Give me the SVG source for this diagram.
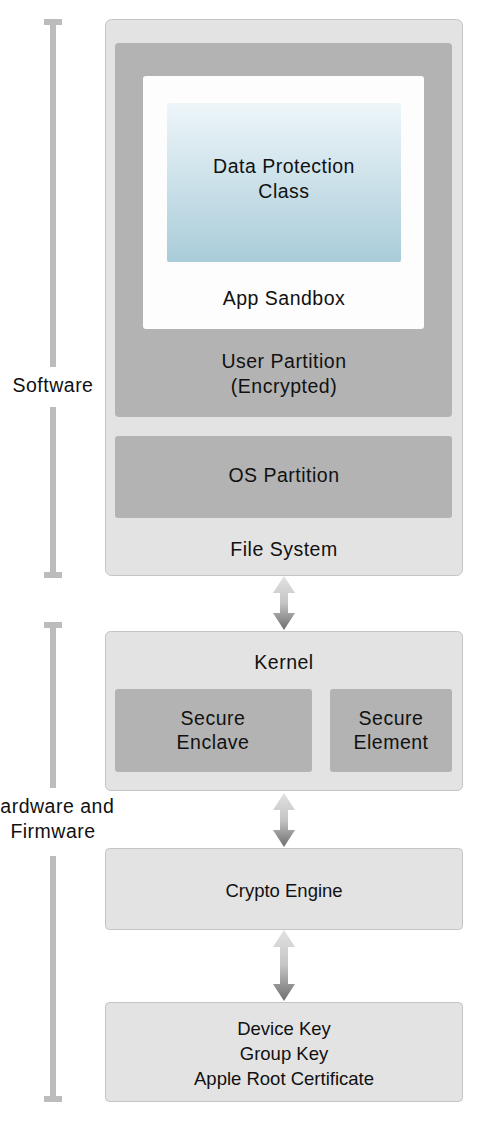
<svg xmlns="http://www.w3.org/2000/svg" width="498" height="1128" viewBox="0 0 498 1128">
<style>
.outer{fill:#e3e3e3;stroke:#c4c4c4;stroke-width:1}
.dark{fill:#b3b3b3}
.t{font-family:"Liberation Sans",Arial,sans-serif;font-size:19.5px;letter-spacing:0.5px;fill:#111;text-anchor:middle}
.m{font-family:"Liberation Sans",Arial,sans-serif;font-size:18.5px;fill:#111;text-anchor:middle}
.br{fill:#bcbcbc}
.arr{fill:url(#ag)}
</style>
<defs>
<linearGradient id="dp" x1="0" y1="0" x2="0" y2="1">
<stop offset="0" stop-color="#eef6fa"/>
<stop offset="1" stop-color="#a9ccd9"/>
</linearGradient>
<linearGradient id="ag" x1="0" y1="0" x2="0" y2="1">
<stop offset="0" stop-color="#e2e2e2"/>
<stop offset="0.5" stop-color="#c4c4c4"/>
<stop offset="1" stop-color="#6e6e6e"/>
</linearGradient>
</defs>
<rect width="498" height="1128" fill="#ffffff"/>

<g id="software-bracket">
<rect class="br" x="44" y="19" width="18" height="6"/>
<rect class="br" x="50" y="19" width="6" height="348"/>
<rect class="br" x="50" y="407" width="6" height="171"/>
<rect class="br" x="44" y="572" width="18" height="6"/>
<text class="t" x="53" y="392">Software</text>
</g>

<g id="hardware-bracket">
<rect class="br" x="44" y="622" width="18" height="6"/>
<rect class="br" x="50" y="622" width="6" height="166"/>
<rect class="br" x="50" y="856" width="6" height="246"/>
<rect class="br" x="44" y="1096" width="18" height="6"/>
<text class="t" x="50" y="813">Hardware and</text>
<text class="t" x="53" y="838">Firmware</text>
</g>

<g id="file-system">
<rect class="outer" x="105.5" y="19.5" width="357" height="556" rx="6"/>
<text class="t" x="284" y="556">File System</text>
</g>
<g id="user-partition">
<rect class="dark" x="115" y="43" width="337" height="374" rx="4"/>
<text class="t" x="284" y="368">User Partition</text>
<text class="t" x="284" y="393">(Encrypted)</text>
</g>
<g id="app-sandbox">
<rect x="143" y="76" width="281" height="253" rx="3" fill="#fdfdfd"/>
<text class="t" x="284" y="305">App Sandbox</text>
</g>
<g id="data-protection">
<rect x="167" y="103" width="234" height="159" rx="2" fill="url(#dp)"/>
<text class="t" x="284" y="173">Data Protection</text>
<text class="t" x="284" y="198">Class</text>
</g>
<g id="os-partition">
<rect class="dark" x="115" y="436" width="337" height="82" rx="3"/>
<text class="t" x="284" y="482">OS Partition</text>
</g>

<g id="kernel">
<rect class="outer" x="105.5" y="631.5" width="357" height="159" rx="5"/>
<text class="t" x="284" y="669">Kernel</text>
</g>
<g id="secure-enclave">
<rect class="dark" x="115" y="689" width="197" height="83" rx="3"/>
<text class="t" x="213" y="725">Secure</text>
<text class="t" x="213" y="749">Enclave</text>
</g>
<g id="secure-element">
<rect class="dark" x="330" y="689" width="122" height="83" rx="3"/>
<text class="t" x="391" y="725">Secure</text>
<text class="t" x="391" y="749">Element</text>
</g>

<g id="crypto-engine">
<rect class="outer" x="105.5" y="848.5" width="357" height="81" rx="4"/>
<text class="m" x="284" y="897">Crypto Engine</text>
</g>
<g id="keys">
<rect class="outer" x="105.5" y="1002.5" width="357" height="99" rx="4"/>
<text class="m" x="284" y="1035">Device Key</text>
<text class="m" x="284" y="1060">Group Key</text>
<text class="m" x="284" y="1085">Apple Root Certificate</text>
</g>

<g id="connectors">
<path class="arr" d="M284 576 L295 593 L288 593 L288 613 L295 613 L284 630 L273 613 L280 613 L280 593 L273 593 Z"/>
<path class="arr" d="M284 793 L295 810 L288 810 L288 830 L295 830 L284 847 L273 830 L280 830 L280 810 L273 810 Z"/>
<path class="arr" d="M284 930 L295 947 L288 947 L288 984 L295 984 L284 1001 L273 984 L280 984 L280 947 L273 947 Z"/>
</g>
</svg>
